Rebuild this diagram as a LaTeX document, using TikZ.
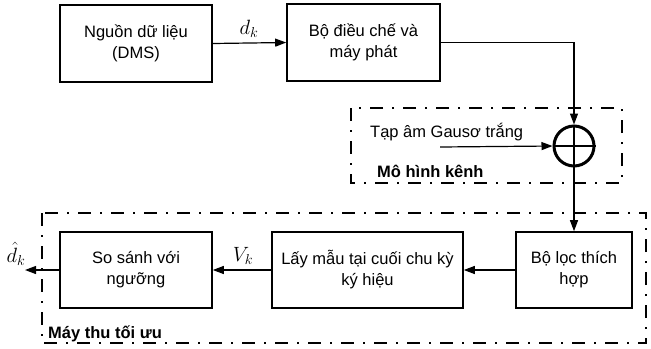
\documentclass[tikz,border=0pt]{standalone}
\usepackage{fontspec}
\setmainfont{Liberation Sans}
\usetikzlibrary{arrows.meta}
\begin{document}
\begin{tikzpicture}[x=1bp,y=-1bp,
  blk/.style={draw, line width=1.6bp, inner sep=0pt, align=center,
    font=\fontsize{16.5bp}{21bp}\selectfont},
  txt/.style={inner sep=0pt, font=\fontsize{16.5bp}{21bp}\selectfont},
  boldtxt/.style={inner sep=0pt, font=\fontsize{16.5bp}{21bp}\selectfont\bfseries},
  sig/.style={line width=1.2bp, -{Triangle[length=11bp,width=8bp]}},
  frame/.style={line width=2bp, dash pattern=on 13bp off 9bp on 2bp off 9bp},
  sym/.style={inner sep=0pt, font=\fontsize{21bp}{21bp}\selectfont}]
\useasboundingbox (0,0) rectangle (651,348);

% transmitter side
\node[blk, minimum width=152bp, minimum height=77bp] (src) at (136,43.5) {Nguồn dữ liệu\\(DMS)};
\node[blk, minimum width=153bp, minimum height=77bp] (mod) at (363.5,42.5) {Bộ điều chế và\\máy phát};

% channel model
\draw[frame] (351,108) rectangle (622,183);
\node[draw, circle, line width=3bp, minimum size=40bp, inner sep=0pt] (sum) at (574,146) {};
\draw[line width=2.6bp] (sum.north) -- (sum.south) (sum.west) -- (sum.east);
\node[txt, anchor=base west] (noise) at (370,137) {Tạp âm Gausơ trắng};
\node[boldtxt, anchor=base west] (chan) at (377,177) {Mô hình kênh};
\coordinate (ns) at (440,147);

% receiver
\draw[frame] (42,213) rectangle (646,343);
\node[blk, minimum width=116bp, minimum height=76bp] (filt) at (574,270) {Bộ lọc thích\\hợp};
\node[blk, minimum width=191bp, minimum height=76bp] (samp) at (367.5,270) {Lấy mẫu tại cuối chu kỳ\\ký hiệu};
\node[blk, minimum width=152bp, minimum height=76bp] (cmp) at (136,270) {So sánh với\\ngưỡng};
\node[boldtxt, anchor=base west] (rx) at (48,338) {Máy thu tối ưu};
\coordinate (out) at (25,270);

% signal labels
\node[sym] (dk) at (249,29) {$d_k$};
\node[sym] (vk) at (243,256) {$V_k$};
\node[sym] (dhat) at (16,254) {$\hat{d}_k$};

% connectors
\draw[sig] (src.east) -- (mod.west);
\draw[sig] (mod.east) -| (sum.north);
\draw[sig] (ns) -- (sum.west);
\draw[sig] (sum.south) -- (filt.north);
\draw[sig] (filt.west) -- (samp.east);
\draw[sig] (samp.west) -- (cmp.east);
\draw[sig] (cmp.west) -- (out);
\end{tikzpicture}
\end{document}
